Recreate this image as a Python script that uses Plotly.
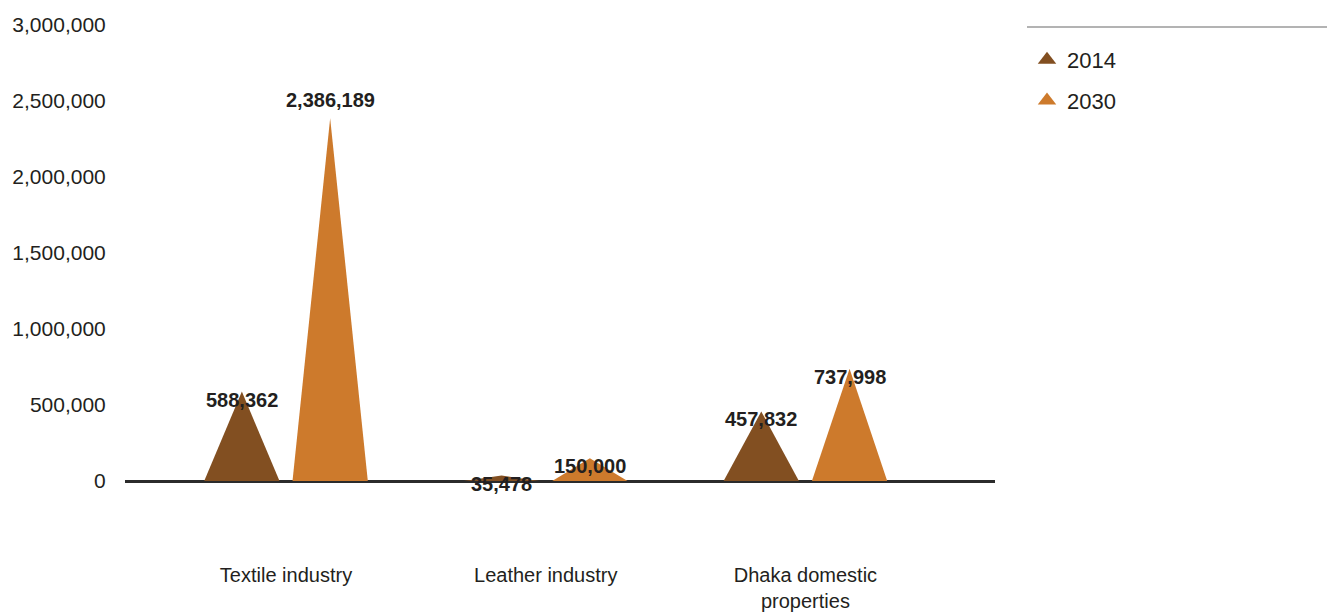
import plotly.graph_objects as go

# Source data: water demand by sector (2014 vs 2030)
categories = ["Textile industry", "Leather industry", "Dhaka domestic<br>properties"]
years = ["2014", "2030"]
values_2014 = [588362, 35478, 457832]
values_2030 = [2386189, 150000, 737998]
y_ticks = [0, 500000, 1000000, 1500000, 2000000, 2500000, 3000000]

colors = {"2014": "#824f21", "2030": "#cd7a2c"}
offsets = {"2014": -0.17, "2030": 0.17}
half_width = 0.145
text_color = "#231f20"
font_family = "Liberation Sans, Arial, sans-serif"

fig = go.Figure()

series = {"2014": values_2014, "2030": values_2030}
annotations = []
for year in years:
    vals = series[year]
    for i, v in enumerate(vals):
        cx = i + offsets[year]
        # each value is drawn as a triangle rising from the baseline
        fig.add_trace(go.Scatter(
            x=[cx - half_width, cx, cx + half_width, cx - half_width],
            y=[0, v, 0, 0],
            mode="lines",
            fill="toself",
            fillcolor=colors[year],
            line=dict(width=0, color=colors[year]),
            hoverinfo="skip",
            showlegend=False,
            legendgroup=year,
        ))
        annotations.append(dict(
            x=cx, y=v, xref="x", yref="y",
            text=f"{v:,}",
            showarrow=False,
            yshift=18 if v > 2000000 else -8,
            font=dict(family=font_family, size=20, color=text_color, weight="bold"),
        ))
    # legend entry with a triangle symbol
    fig.add_trace(go.Scatter(
        x=[None], y=[None],
        mode="markers",
        marker=dict(symbol="triangle-up", size=22, color=colors[year]),
        name=year,
        legendgroup=year,
    ))

plot_left, plot_right, plot_top, plot_bottom = 125, 995, 20, 561
baseline_px = 481
px_per_unit = 152e-6
y_top = (baseline_px - plot_top) / px_per_unit
y_bottom = -(plot_bottom - baseline_px) / px_per_unit
plot_w = plot_right - plot_left
plot_h = plot_bottom - plot_top

fig.update_layout(
    width=1327,
    height=612,
    margin=dict(l=plot_left, r=1327 - plot_right, t=plot_top, b=612 - plot_bottom),
    paper_bgcolor="white",
    plot_bgcolor="white",
    font=dict(family=font_family, color=text_color),
    annotations=annotations,
    showlegend=True,
    legend=dict(
        x=(1027 - plot_left) / plot_w,
        y=(plot_bottom - 39) / plot_h,
        xanchor="left", yanchor="top",
        font=dict(size=22, color=text_color, family=font_family),
        bgcolor="rgba(0,0,0,0)",
        tracegroupgap=9,
        itemsizing="trace",
    ),
    shapes=[dict(
        type="line", xref="paper", yref="paper",
        x0=(1027 - plot_left) / plot_w, x1=(1327 - plot_left) / plot_w,
        y0=(plot_bottom - 27) / plot_h, y1=(plot_bottom - 27) / plot_h,
        line=dict(color="#9a9a9a", width=1.5),
    )],
    xaxis=dict(
        range=[-0.62, 2.73],
        tickvals=[0, 1, 2],
        ticktext=categories,
        showgrid=False,
        zeroline=False,
        showline=False,
        ticks="",
        automargin=False,
        tickfont=dict(size=20, color=text_color, family=font_family),
        fixedrange=True,
    ),
    yaxis=dict(
        range=[y_bottom, y_top],
        tickvals=y_ticks,
        ticktext=[f"{t:,}" for t in y_ticks],
        showgrid=False,
        zeroline=True,
        zerolinecolor="#2b2b2b",
        zerolinewidth=2.5,
        showline=False,
        ticks="outside",
        ticklen=14,
        tickcolor="rgba(0,0,0,0)",
        automargin=False,
        tickfont=dict(size=21, color=text_color, family=font_family),
        fixedrange=True,
    ),
)

fig.write_html("out.html")
